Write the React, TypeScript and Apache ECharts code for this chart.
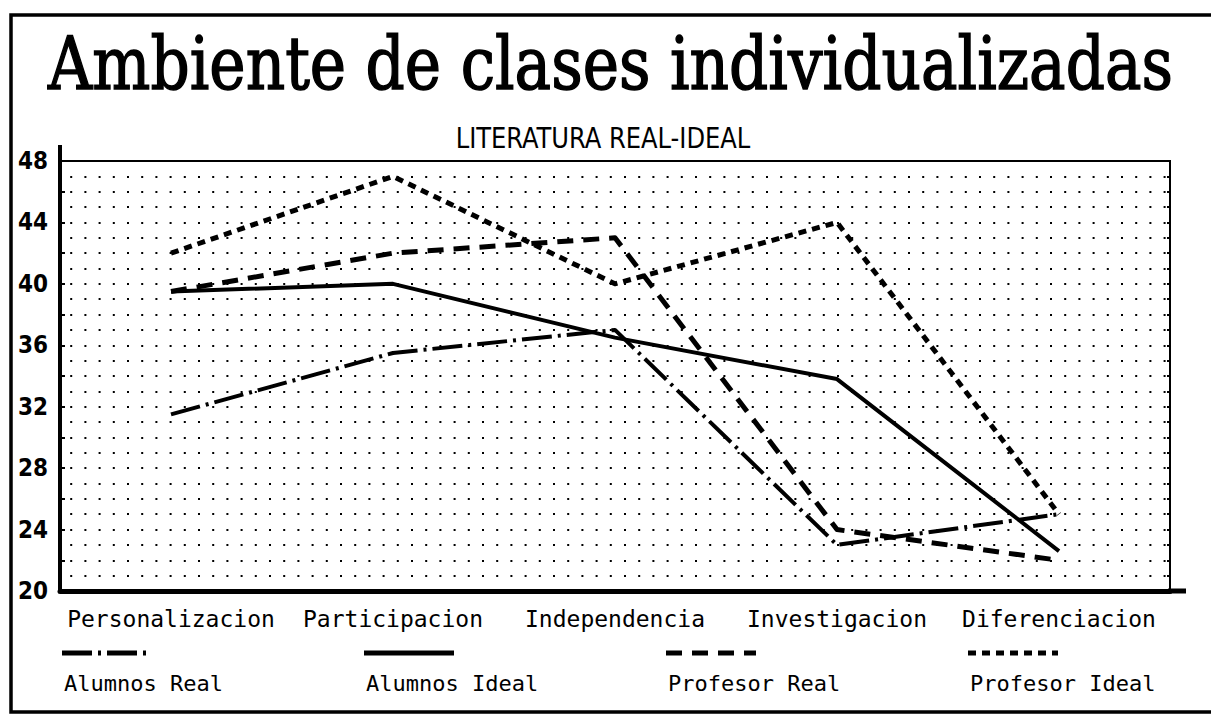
import React, { useEffect, useRef } from "react";
import * as echarts from "echarts";

const categories = ["Personalizacion", "Participacion", "Independencia", "Investigacion", "Diferenciacion"];
const seriesNames = ["Alumnos Real", "Alumnos Ideal", "Profesor Real", "Profesor Ideal"];
const alumnosReal = [31.5, 35.5, 37, 23, 25];
const alumnosIdeal = [39.5, 40, 36.5, 33.8, 22.6];
const profesorReal = [39.5, 42, 43, 24, 22];
const profesorIdeal = [42, 47, 40, 44, 25];
const yMin = 20;
const yMax = 48;

const titleText = "Ambiente de clases individualizadas";
const subtitleText = "LITERATURA REAL-IDEAL";

const W = 1211;
const H = 715;

const dashes: (number[] | "solid")[] = [[30, 6, 3, 6], "solid", [16, 10], [8, 6]];
const widths = [4, 4, 5, 5];

function measure(text: string, font: string): number {
  const c = document.createElement("canvas").getContext("2d");
  if (!c) return text.length * 20;
  c.font = font;
  return c.measureText(text).width;
}

export default function App() {
  const ref = useRef<HTMLDivElement>(null);

  useEffect(() => {
    document.body.style.margin = "0";
    if (!ref.current) return;
    const chart = echarts.init(ref.current, undefined, { renderer: "svg" });

    const titleFont = '72px "DejaVu Serif"';
    const titleScale = 1125 / measure(titleText, titleFont);
    const subFont = '28px "DejaVu Sans Condensed", "DejaVu Sans"';
    const subScale = 295 / measure(subtitleText, subFont);

    const dataSets = [alumnosReal, alumnosIdeal, profesorReal, profesorIdeal];

    const dotLine = {
      type: [2, 12.2] as number[],
      width: 2,
      color: "#000",
      dashOffset: 4.2,
    };

    const legendGraphics: any[] = [];
    seriesNames.forEach((name, i) => {
      const x0 = 62 + i * 302;
      legendGraphics.push({
        type: "line",
        shape: { x1: x0, y1: 653, x2: x0 + 90, y2: 653 },
        style: {
          stroke: "#000",
          lineWidth: 5,
          lineDash: dashes[i] === "solid" ? null : (dashes[i] as number[]),
        },
        silent: true,
      });
      legendGraphics.push({
        type: "text",
        x: x0 + 2,
        y: 683,
        style: {
          text: name,
          font: '22px "DejaVu Sans Mono"',
          fill: "#000",
          align: "left",
          verticalAlign: "middle",
        },
        silent: true,
      });
    });

    const option: any = {
      animation: false,
      backgroundColor: "#fff",
      grid: {
        left: 60,
        right: 41,
        top: 161,
        bottom: 124,
        show: true,
        borderColor: "#000",
        borderWidth: 2,
        backgroundColor: "transparent",
      },
      xAxis: {
        type: "category",
        data: categories,
        boundaryGap: true,
        axisLine: { show: true, lineStyle: { color: "#000", width: 5 } },
        axisTick: { show: false },
        axisLabel: {
          color: "#000",
          fontFamily: '"DejaVu Sans Mono"',
          fontSize: 23,
          margin: 16,
          interval: 0,
        },
        splitLine: { show: false },
      },
      yAxis: [
        {
          type: "value",
          min: yMin,
          max: yMax,
          interval: 2,
          axisLine: { show: true, lineStyle: { color: "#000", width: 4 } },
          axisTick: { show: true, inside: true, length: 5, lineStyle: { color: "#000", width: 2 } },
          axisLabel: {
            formatter: (v: number) => (v % 4 === 0 ? String(v) : ""),
            color: "#000",
            fontFamily: '"Liberation Sans Narrow", "DejaVu Sans Condensed", sans-serif',
            fontWeight: "bold",
            fontSize: 24,
            margin: 12,
          },
          splitLine: { show: true, lineStyle: dotLine },
          minorTick: { show: false, splitNumber: 2 },
          minorSplitLine: { show: true, lineStyle: dotLine },
        },
        {
          type: "value",
          min: yMin,
          max: yMax,
          interval: 1,
          position: "right",
          axisLine: { show: true, lineStyle: { color: "#000", width: 2 } },
          axisTick: { show: true, inside: true, length: 3, lineStyle: { color: "#000", width: 2 } },
          axisLabel: { show: false },
          splitLine: { show: false },
        },
      ],
      series: seriesNames.map((name, i) => ({
        name,
        type: "line",
        data: dataSets[i],
        yAxisIndex: 0,
        symbol: "none",
        smooth: false,
        lineStyle: {
          color: "#000",
          width: widths[i],
          type: dashes[i],
          cap: "butt",
          join: "round",
        },
        z: 5,
      })),
      graphic: [
        {
          type: "rect",
          shape: { x: 11, y: 15, width: 1230, height: 697 },
          style: { fill: "none", stroke: "#000", lineWidth: 3.5 },
          silent: true,
          z: 0,
        },
        {
          type: "line",
          shape: { x1: 60, y1: 145, x2: 60, y2: 162 },
          style: { stroke: "#000", lineWidth: 4 },
          silent: true,
        },
        {
          type: "line",
          shape: { x1: 1168, y1: 591, x2: 1186, y2: 591 },
          style: { stroke: "#000", lineWidth: 5 },
          silent: true,
        },
        {
          type: "text",
          x: 48,
          y: 64,
          scaleX: titleScale,
          style: {
            text: titleText,
            font: titleFont,
            fill: "#000",
            stroke: "#000",
            lineWidth: 1.5,
            align: "left",
            verticalAlign: "middle",
          },
          silent: true,
        },
        {
          type: "text",
          x: 603,
          y: 138,
          scaleX: subScale,
          style: {
            text: subtitleText,
            font: subFont,
            fill: "#000",
            align: "center",
            verticalAlign: "middle",
          },
          silent: true,
        },
        ...legendGraphics,
      ],
    };

    chart.setOption(option);
    return () => chart.dispose();
  }, []);

  return <div ref={ref} style={{ width: W, height: H }} />;
}
